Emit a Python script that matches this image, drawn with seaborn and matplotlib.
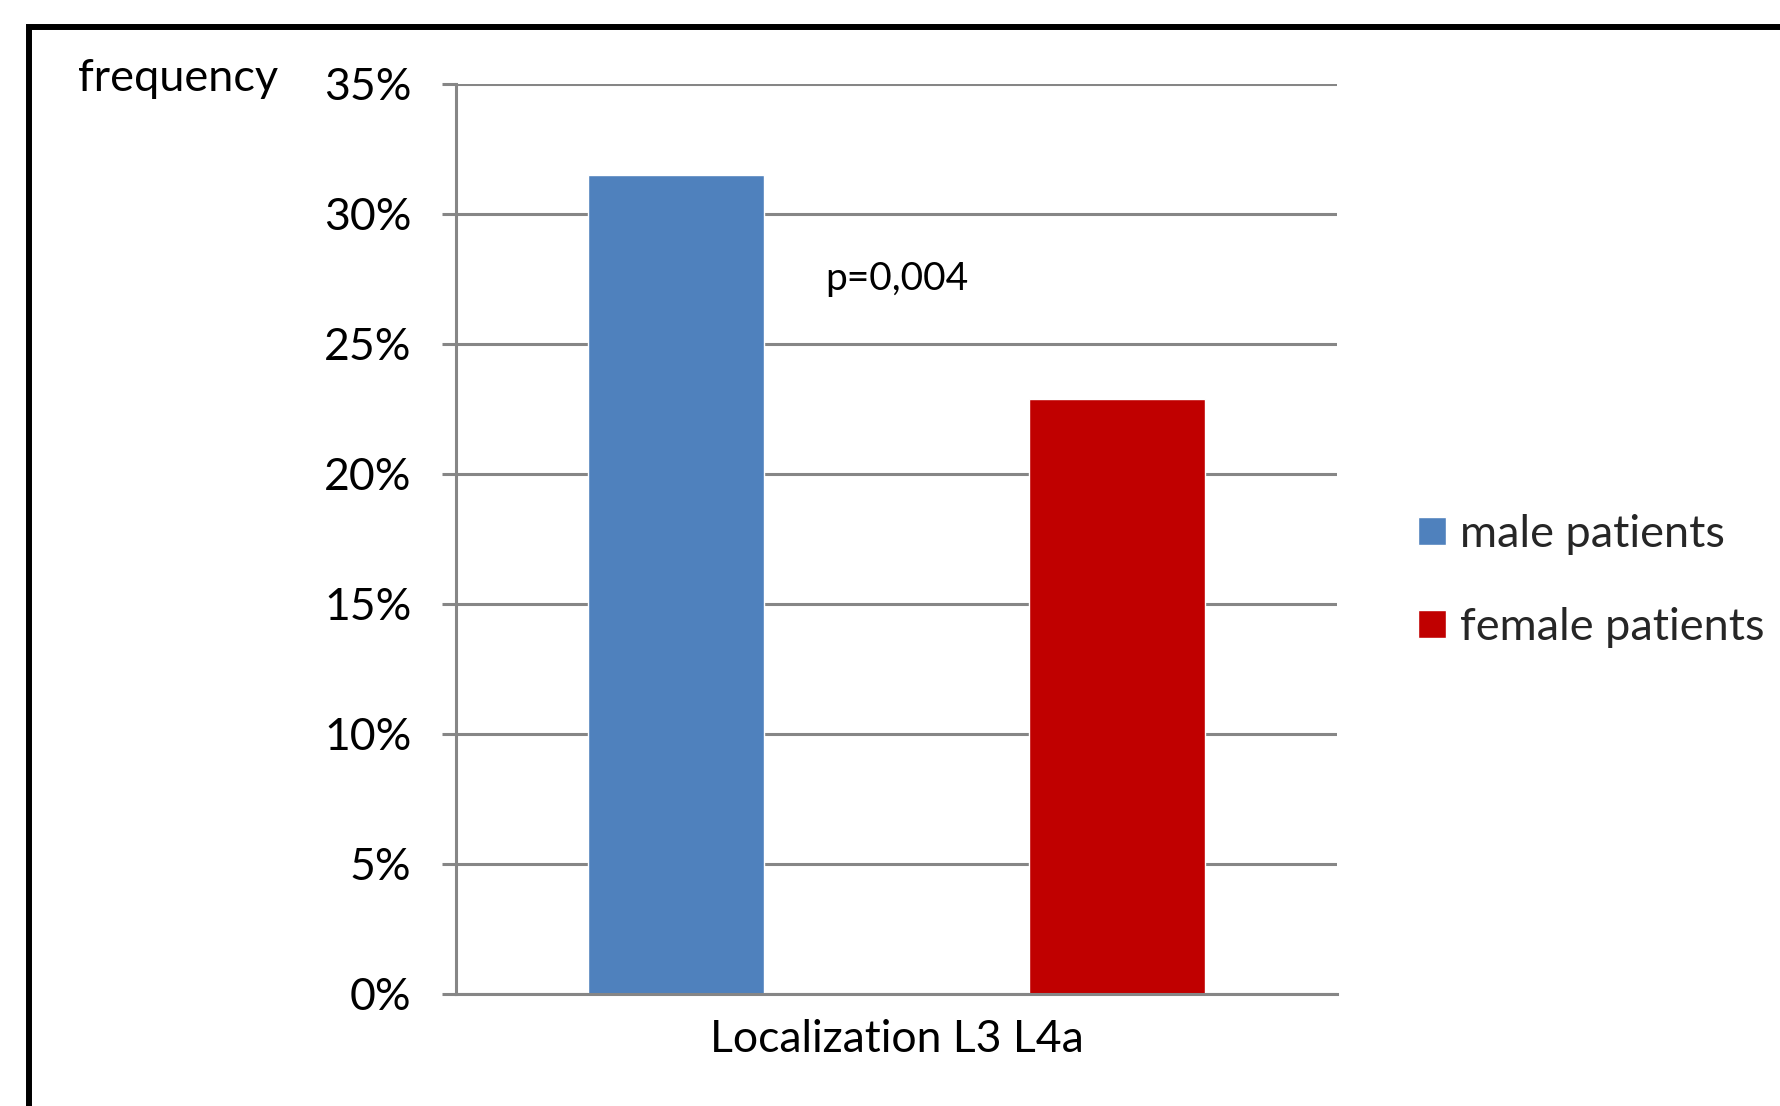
import matplotlib
matplotlib.use("Agg")
import matplotlib.pyplot as plt
from matplotlib.patches import Rectangle
from matplotlib.ticker import PercentFormatter, MultipleLocator
import pandas as pd
import seaborn as sns

# Data
categories = ["Localization L3 L4a"]
groups = ["male patients", "female patients"]
frequencies = [0.315, 0.229]
p_value_label = "p=0,004"
colors = ["#4F81BD", "#C00000"]

df = pd.DataFrame({
    "location": categories * len(groups),
    "group": groups,
    "frequency": frequencies,
})

sns.set_theme(style="white")
plt.rcParams["font.family"] = ["Lato", "DejaVu Sans"]

W, H, DPI = 1781, 1106, 100
fig = plt.figure(figsize=(W / DPI, H / DPI), dpi=DPI)
fig.patch.set_facecolor("white")

# Axes placed in pixel terms of the canvas
left, right, top, bottom = 456, 1337, 84, 994
ax = fig.add_axes([left / W, 1 - bottom / H, (right - left) / W, (bottom - top) / H])

sns.barplot(data=df, x="location", y="frequency", hue="group",
            palette=colors, width=1.0, gap=0.6, errorbar=None,
            saturation=1.0, ax=ax)

grid_c = "#868686"
ax.set_ylim(0, 0.35)
ax.set_xlim(-0.5, 0.5)
ax.yaxis.set_major_locator(MultipleLocator(0.05))
ax.yaxis.set_major_formatter(PercentFormatter(xmax=1, decimals=0))
ax.yaxis.grid(True, color=grid_c, linewidth=2.2)
ax.set_axisbelow(True)

for s in ["top", "right"]:
    ax.spines[s].set_visible(False)
for s in ["left", "bottom"]:
    ax.spines[s].set_color(grid_c)
    ax.spines[s].set_linewidth(2.2)

ax.tick_params(axis="y", length=10, width=2.2, color=grid_c, direction="out",
               pad=22, labelsize=32, labelcolor="black", left=True)
ax.tick_params(axis="x", length=0, pad=18, labelsize=32, labelcolor="black")
ax.set_xlabel("")
ax.set_ylabel("")

# significance annotation
ax.text(0, 0.2708, p_value_label, ha="center", va="baseline",
        fontsize=28, color="black")

# axis caption
fig.text(78 / W, 1 - 91 / H, "frequency", ha="left", va="baseline",
         fontsize=32.5, color="black")

# legend on the right
sns.move_legend(ax, loc="center left", bbox_to_anchor=(1400 / W, 1 - 581 / H),
                bbox_transform=fig.transFigure, frameon=False, title=None,
                fontsize=32.5, handlelength=0.62, handleheight=0.58,
                handletextpad=0.3, labelspacing=1.15, borderaxespad=0)

# outer frame
fig.add_artist(Rectangle((29 / W, -0.2), 2.0, 1.2 - 27 / H,
                         transform=fig.transFigure, fill=False,
                         edgecolor="black", linewidth=4.3))

fig.savefig("out.png", dpi=DPI)
